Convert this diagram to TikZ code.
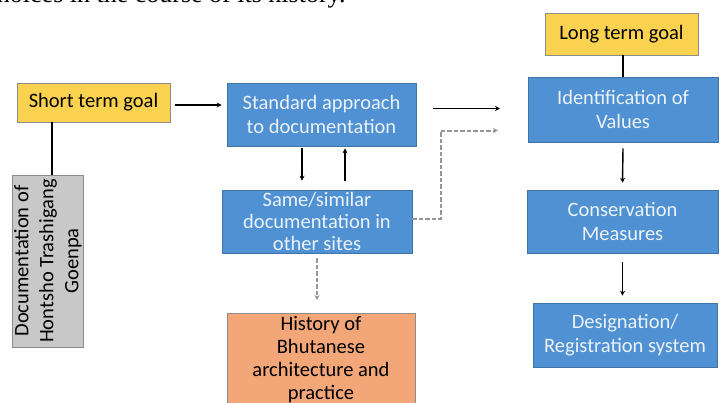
\documentclass[tikz,border=0pt]{standalone}
\usepackage{fontspec}
\setmainfont{Carlito}
\newfontfamily\serifpage{Liberation Serif}
\usetikzlibrary{arrows.meta,calc}
\definecolor{boxblue}{RGB}{79,145,211}
\definecolor{boxyellow}{RGB}{250,210,80}
\definecolor{boxorange}{RGB}{243,166,120}
\definecolor{boxgray}{RGB}{200,200,200}
\definecolor{lighttext}{RGB}{236,242,248}
\definecolor{dashgray}{RGB}{150,150,150}
\tikzset{
  base/.style={draw=black!45, line width=0.6pt, align=center, inner sep=2pt, font=\fontsize{20.5}{24}\selectfont},
  bluebox/.style={base, fill=boxblue, draw=boxblue!80!black, text=lighttext},
  yellowbox/.style={base, fill=boxyellow, text=black},
  orangebox/.style={base, fill=boxorange, text=black},
  graybox/.style={base, fill=boxgray, text=black},
  arr/.style={-{Stealth[length=5pt,width=5pt]}, line width=1.4pt, black},
  dasharr/.style={-{Stealth[length=5pt,width=5pt]}, line width=2pt, dashgray, dash pattern=on 4.5pt off 2pt},
  plain/.style={line width=1.4pt, black}
}
\begin{document}
\begin{tikzpicture}[x=1pt,y=-1pt]
\useasboundingbox (0,0) rectangle (722,402);
\clip (0,0) rectangle (722,402);
\node[anchor=base east, font=\serifpage\fontsize{26}{26}\selectfont] (toptext) at (349,2.5) {choices in the course of its history.};
\node[yellowbox, minimum width=153pt, minimum height=39pt] (short) at (93.5,102.5) {Short term goal};
\node[bluebox, minimum width=189pt, minimum height=63pt] (std) at (321.5,114.5) {Standard approach\\to documentation};
\node[graybox, minimum width=172pt, minimum height=70pt, rotate=90, font=\fontsize{20.5}{25}\selectfont] (gray) at (48,261) {Documentation of\\Hontsho Trashigang\\Goenpa};
\node[bluebox, minimum width=190pt, minimum height=63pt, inner sep=0pt, font=\fontsize{20.5}{22}\selectfont] (same) at (317,221.5) {Same/similar\\documentation in\\other sites};
\node[orangebox, anchor=north, minimum width=188pt, inner ysep=3.5pt, font=\fontsize{20.5}{23}\selectfont] (hist) at (321,313) {History of\\Bhutanese\\architecture and\\practice};
\node[yellowbox, minimum width=153pt, minimum height=42pt] (long) at (621.5,34) {Long term goal};
\node[bluebox, minimum width=190pt, minimum height=65pt] (ident) at (623,109.5) {Identification of\\Values};
\node[bluebox, minimum width=191pt, minimum height=63pt] (cons) at (622.5,221.5) {Conservation\\Measures};
\node[bluebox, minimum width=184pt, minimum height=64pt] (desig) at (625,335) {Designation/\\Registration system};
\coordinate (fa) at (433,108.5);
\coordinate (fb) at (500,108.5);
\coordinate (dbend1) at (440.5,219);
\coordinate (dbend2) at (440.5,130.5);
\coordinate (dend) at (498,130.5);
\draw[arr] ($(short.east |- 0,105)+(5,0)$) -- ($(std.west |- 0,105)+(-5,0)$);
\draw[plain] ($(gray.east)+(4,0)$) -- ($(gray.east |- short.south)+(4,0)$);
\draw[arr] ($(std.south)+(-19.5,2)$) -- ($(same.north)+(-15,-9)$);
\draw[arr] ($(same.north)+(28,-9)$) -- ($(std.south)+(23.5,2)$);
\draw[dasharr] ($(same.south)+(0,5)$) -- ($(hist.north)+(-4,-13)$);
\draw[arr] (fa) -- (fb);
\draw[dasharr] (same.east |- dbend1) -- (dbend1) -- (dbend2) -- (dend);
\draw[plain] ($(long.south)+(1.5,0)$) -- (ident.north);
\draw[arr] ($(ident.south)+(0,6)$) -- ($(cons.north)+(0,-7)$);
\draw[arr] ($(cons.south)+(0,9)$) -- ($(desig.north)+(-2.5,-7)$);
\end{tikzpicture}
\end{document}
